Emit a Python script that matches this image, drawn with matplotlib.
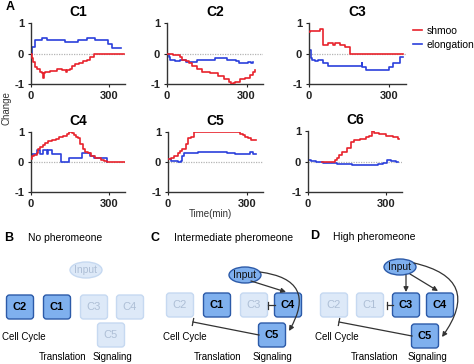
import numpy as np
import matplotlib
matplotlib.use("Agg")
import matplotlib.pyplot as plt
from matplotlib.patches import FancyBboxPatch, Ellipse, FancyArrowPatch

plt.rcParams['font.family'] = ['Liberation Sans', 'DejaVu Sans']
plt.rcParams['axes.unicode_minus'] = False

# ---------------- data (time in min, change) ----------------
c1_t_blue = [0, 5, 15, 41, 61, 132, 180, 216, 248, 296, 313, 345]
c1_v_blue = [0, 0.2, 0.45, 0.51, 0.45, 0.38, 0.45, 0.51, 0.45, 0.3, 0.17, 0.17]
c1_t_red = [0, 4, 9, 16, 25, 35, 41, 46, 50, 55, 74, 100, 118, 135, 140, 150, 158, 170, 184, 200, 216, 229, 242, 358]
c1_v_red = [0, -0.15, -0.28, -0.45, -0.52, -0.6, -0.65, -0.8, -0.65, -0.62, -0.58, -0.5, -0.55, -0.62, -0.55, -0.5, -0.4, -0.35, -0.3, -0.25, -0.2, -0.1, 0, 0]

c2_t_blue = [0, 6, 12, 30, 50, 72, 114, 180, 228, 260, 270, 306, 316, 326]
c2_v_blue = [0, -0.1, -0.2, -0.24, -0.21, -0.27, -0.2, -0.15, -0.2, -0.25, -0.3, -0.28, -0.3, -0.28]
c2_t_red = [0, 24, 48, 55, 72, 84, 96, 114, 132, 162, 192, 216, 234, 240, 250, 258, 276, 294, 312, 324, 330]
c2_v_red = [0, -0.05, -0.1, -0.2, -0.25, -0.32, -0.4, -0.5, -0.6, -0.65, -0.75, -0.85, -0.95, -1.0, -0.97, -0.92, -0.85, -0.8, -0.7, -0.6, -0.55]

c3_t_blue = [0, 3, 8, 13, 22, 34, 51, 72, 196, 199, 211, 300, 313, 338, 350]
c3_v_blue = [0.13, 0.1, -0.15, -0.2, -0.25, -0.2, -0.32, -0.4, -0.3, -0.45, -0.54, -0.45, -0.3, -0.1, -0.1]
c3_t_red = [0, 3, 10, 41, 51, 72, 91, 97, 116, 135, 152, 350]
c3_v_red = [0.7, 0.75, 0.75, 0.8, 0.29, 0.35, 0.29, 0.35, 0.29, 0.2, 0, 0]

c4_t_blue = [0, 5, 25, 35, 48, 61, 67, 80, 117, 145, 197, 226, 242, 291]
c4_v_blue = [0.2, 0.28, 0.4, 0.28, 0.4, 0.28, 0.4, 0.28, 0, 0.15, 0.3, 0.2, 0.15, 0]
c4_t_red = [0, 4, 12, 22, 28, 35, 45, 54, 65, 80, 95, 106, 125, 138, 145, 158, 164, 172, 180, 190, 200, 209, 218, 231, 248, 268, 280, 294, 365]
c4_v_red = [0.1, 0.2, 0.25, 0.3, 0.42, 0.5, 0.58, 0.65, 0.7, 0.75, 0.78, 0.82, 0.88, 0.93, 1.0, 0.97, 0.9, 0.85, 0.8, 0.6, 0.45, 0.35, 0.3, 0.2, 0.15, 0.08, 0.03, 0, 0]

c5_t_blue = [0, 12, 24, 37, 49, 55, 61, 116, 147, 220, 226, 257, 312, 324, 334]
c5_v_blue = [0.1, 0.05, 0.02, 0, 0.05, 0.2, 0.3, 0.32, 0.33, 0.35, 0.3, 0.27, 0.32, 0.28, 0.28]
c5_t_red = [0, 12, 24, 37, 46, 55, 67, 77, 86, 98, 275, 285, 294, 306, 318, 324, 334]
c5_v_red = [0.1, 0.15, 0.2, 0.3, 0.38, 0.45, 0.6, 0.8, 0.85, 1.0, 0.95, 0.9, 0.85, 0.8, 0.75, 0.72, 0.72]

c6_t_blue = [0, 13, 30, 59, 111, 170, 228, 270, 287, 306, 320, 339, 348]
c6_v_blue = [0.05, 0.02, 0, -0.05, -0.08, -0.12, -0.1, -0.08, -0.05, 0.05, 0.02, 0, 0]
c6_t_red = [52, 104, 111, 118, 130, 150, 166, 176, 202, 222, 235, 248, 256, 274, 300, 326, 346, 352]
c6_v_red = [0, 0.05, 0.1, 0.2, 0.3, 0.45, 0.65, 0.72, 0.75, 0.8, 0.85, 1.0, 0.95, 0.9, 0.85, 0.8, 0.75, 0.75]

titles = ['C1', 'C2', 'C3', 'C4', 'C5', 'C6']
series = [
    (c1_t_blue, c1_v_blue, c1_t_red, c1_v_red),
    (c2_t_blue, c2_v_blue, c2_t_red, c2_v_red),
    (c3_t_blue, c3_v_blue, c3_t_red, c3_v_red),
    (c4_t_blue, c4_v_blue, c4_t_red, c4_v_red),
    (c5_t_blue, c5_v_blue, c5_t_red, c5_v_red),
    (c6_t_blue, c6_v_blue, c6_t_red, c6_v_red),
]
legend_labels = ['shmoo', 'elongation']
x_ticks = [0, 300]
y_ticks = [-1, 0, 1]

RED = '#e8222c'
BLUE = '#2b40dc'

W, H = 474, 364
fig = plt.figure(figsize=(W / 100, H / 100), dpi=100)

def px_axes(x0, y0, x1, y1):
    return fig.add_axes([x0 / W, 1 - y1 / H, (x1 - x0) / W, (y1 - y0) / H])

# axes boxes in pixel coords (left, top, right, bottom)
boxes = [(31, 23, 125, 84), (167, 23, 263, 84), (309, 23, 406, 84),
         (31, 132, 125, 192), (168, 132, 263, 192), (308, 131, 402, 192)]

axes = []
for i, (b, ttl, s) in enumerate(zip(boxes, titles, series)):
    ax = px_axes(*b)
    axes.append(ax)
    tb, vb, tr, vr = s
    ax.axhline(0, color='#b5b5b5', lw=0.9, ls=(0, (1, 1)), zorder=1)
    ax.plot(tb, vb, drawstyle='steps-post', color=BLUE, lw=1.2, zorder=2, label=legend_labels[1])
    ax.plot(tr, vr, drawstyle='steps-post', color=RED, lw=1.2, zorder=3, label=legend_labels[0])
    ax.set_xlim(0, 362)
    ax.set_ylim(-1, 1)
    ax.set_xticks(x_ticks)
    ax.set_yticks(y_ticks)
    ax.tick_params(length=2, width=0.8, pad=3, labelsize=8, colors='#222222')
    for lab in ax.get_xticklabels() + ax.get_yticklabels():
        lab.set_fontweight('bold')
    for sp in ['top', 'right']:
        ax.spines[sp].set_visible(False)
    for sp in ['left', 'bottom']:
        ax.spines[sp].set_linewidth(1.0)
        ax.spines[sp].set_color('#333333')
    ax.set_title(ttl, fontsize=10, fontweight='bold', pad=5)

h, l = axes[2].get_legend_handles_labels()
fig.legend(h[::-1], l[::-1], loc='upper left', bbox_to_anchor=(413 / W, 1 - 26 / H),
           frameon=False, fontsize=7.5, handlelength=0.9, handletextpad=0.4,
           labelspacing=0.35, borderpad=0, borderaxespad=0)

fig.text(7 / W, 1 - 108 / H, 'Change', rotation=90, fontsize=7, ha='center', va='center', color='#333333')
fig.text(210 / W, 1 - 214 / H, 'Time(min)', fontsize=7, ha='center', va='center', color='#333333')
fig.text(10 / W, 1 - 7 / H, 'A', fontsize=9, fontweight='bold', ha='center', va='center')

# ---------------- diagrams ----------------
d = fig.add_axes([0, 0, 1, 1], zorder=-1)
d.set_xlim(0, W)
d.set_ylim(H, 0)
d.axis('off')

ACT_FILL = '#7fb0ee'
ACT_EDGE = '#2c5aa8'
FADE_FILL = '#dde9f8'
FADE_EDGE = '#c6d9f1'
FADE_TEXT = '#aebfd6'

def node(cx, cy, name, active):
    w, hh = 24, 21
    p = FancyBboxPatch((cx - w / 2, cy - hh / 2), w, hh, boxstyle='round,pad=1.5,rounding_size=3',
                       fc=ACT_FILL if active else FADE_FILL, ec=ACT_EDGE if active else FADE_EDGE,
                       lw=1.0)
    d.add_patch(p)
    d.text(cx, cy, name, ha='center', va='center', fontsize=8,
           fontweight='bold' if active else 'normal', color='black' if active else FADE_TEXT)

def inp(cx, cy, active):
    e = Ellipse((cx, cy), 32, 16, fc=ACT_FILL if active else FADE_FILL,
                ec=ACT_EDGE if active else FADE_EDGE, lw=1.0)
    d.add_patch(e)
    d.text(cx, cy, 'Input', ha='center', va='center', fontsize=7.5,
           color='#111111' if active else FADE_TEXT)

def arrow(p0, p1, rad=0.0):
    a = FancyArrowPatch(p0, p1, arrowstyle='-|>', mutation_scale=7, lw=0.9, color='#333333',
                        connectionstyle=f'arc3,rad={rad}', shrinkA=0, shrinkB=0)
    d.add_patch(a)

def inhibit(p0, p1):
    x0, y0 = p0
    x1, y1 = p1
    d.plot([x0, x1], [y0, y1], color='#333333', lw=0.9)
    dx, dy = x1 - x0, y1 - y0
    n = np.hypot(dx, dy)
    px, py = -dy / n * 3.5, dx / n * 3.5
    d.plot([x1 - px, x1 + px], [y1 - py, y1 + py], color='#333333', lw=0.9)

def labels(xc, xt, xs):
    d.text(xc, 337, 'Cell Cycle', ha='center', va='center', fontsize=7)
    d.text(xt, 357, 'Translation', ha='center', va='center', fontsize=7)
    d.text(xs, 357, 'Signaling', ha='center', va='center', fontsize=7)

# Panel B
d.text(9, 238, 'B', fontsize=9, fontweight='bold', ha='center', va='center')
d.text(28, 238, 'No pheromeone', fontsize=7.5, ha='left', va='center')
inp(86, 270, False)
node(20, 307, 'C2', True)
node(57, 307, 'C1', True)
node(94, 307, 'C3', False)
node(130, 307, 'C4', False)
node(111, 335, 'C5', False)
labels(24, 63, 112)

# Panel C
d.text(155, 238, 'C', fontsize=9, fontweight='bold', ha='center', va='center')
d.text(174, 238, 'Intermediate pheromeone', fontsize=7.5, ha='left', va='center')
node(180, 305, 'C2', False)
node(217, 305, 'C1', True)
node(254, 305, 'C3', False)
node(288, 305, 'C4', True)
node(272, 335, 'C5', True)
inp(245, 275, True)
arrow((251, 281), (286, 292))
arrow((260, 272), (289, 331), rad=-0.75)
inhibit((275, 305), (268, 305))
inhibit((259, 335), (193, 322))
labels(185, 218, 272)

# Panel D
d.text(315, 236, 'D', fontsize=9, fontweight='bold', ha='center', va='center')
d.text(333, 237, 'High pheromeone', fontsize=7.5, ha='left', va='center')
node(334, 305, 'C2', False)
node(370, 305, 'C1', False)
node(406, 305, 'C3', True)
node(440, 305, 'C4', True)
node(425, 336, 'C5', True)
inp(400, 267, True)
arrow((406, 275), (406, 292))
arrow((410, 274), (438, 291))
arrow((414, 263), (442, 337), rad=-0.75)
inhibit((393, 305), (387, 305))
inhibit((412, 336), (339, 322))
labels(337, 375, 427)

fig.savefig('out.png', dpi=100)
